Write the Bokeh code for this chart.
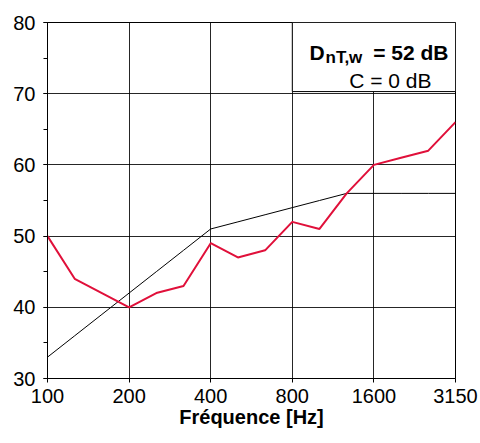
from bokeh.plotting import figure
from bokeh.models import Range1d, FixedTicker, SingleIntervalTicker, BoxAnnotation, Label
from bokeh.embed import file_html
from bokeh.resources import INLINE

# Third-octave bands (Hz)
freqs = [100, 125, 160, 200, 250, 315, 400, 500, 630, 800, 1000, 1250, 1600, 2000, 2500, 3150]
measured = [50, 44, 42, 40, 42, 43, 49, 47, 48, 52, 51, 56, 60, 61, 62, 66]
reference = [33, 36, 39, 42, 45, 48, 51, 52, 53, 54, 55, 56, 56, 56, 56, 56]
tick_labels = ["100", "200", "400", "800", "1600", "3150"]
tick_freqs = [100, 200, 400, 800, 1600, 3150]
rating_text = "= 52 dB"
c_text = "C = 0 dB"

idx = list(range(len(freqs)))
tick_idx = [freqs.index(f) for f in tick_freqs]

FONT = "Liberation Sans"

p = figure(output_backend="svg", toolbar_location=None,
           frame_width=408, frame_height=356,
           min_border_left=47, min_border_right=25, min_border_top=22, min_border_bottom=65,
           x_range=Range1d(0, len(freqs) - 1), y_range=Range1d(30, 80))
p.background_fill_color = "white"
p.border_fill_color = "white"
p.outline_line_color = "black"
p.outline_line_width = 1

# axes
p.xaxis.ticker = FixedTicker(ticks=tick_idx)
p.xaxis.major_label_overrides = {i: l for i, l in zip(tick_idx, tick_labels)}
p.yaxis.ticker = SingleIntervalTicker(interval=10, num_minor_ticks=2)
for ax in (p.xaxis[0], p.yaxis[0]):
    ax.axis_line_color = "black"
    ax.major_tick_line_color = "black"
    ax.minor_tick_line_color = "black"
    ax.major_tick_in = 0
    ax.major_tick_out = 4
    ax.minor_tick_in = 0
    ax.minor_tick_out = 4
    ax.major_label_text_font = FONT
    ax.major_label_text_font_size = "20px"
    ax.major_label_text_color = "black"
p.xaxis.minor_tick_line_color = None
p.xaxis.major_label_standoff = 6
p.yaxis.major_label_standoff = 8
p.xaxis.axis_label = "Fréquence [Hz]"
p.xaxis.axis_label_text_font = FONT
p.xaxis.axis_label_text_font_style = "bold"
p.xaxis.axis_label_text_font_size = "20px"
p.xaxis.axis_label_text_color = "black"
p.xaxis.axis_label_standoff = 0

# grid
p.xgrid.ticker = FixedTicker(ticks=tick_idx)
p.xgrid.grid_line_color = "black"
p.xgrid.grid_line_alpha = 0.85
p.ygrid.grid_line_color = "black"
p.ygrid.grid_line_alpha = 0.85

# data lines
p.line(idx, reference, line_color="black", line_width=1)
p.line(idx, measured, line_color="#e0103a", line_width=2)

# rating box
box = BoxAnnotation(left=9, right=15, bottom=70.3, top=80,
                    fill_color="white", fill_alpha=1.0,
                    line_color="black", line_alpha=1.0, line_width=1)
p.add_layout(box)

p.add_layout(Label(x=262, y=326, x_units="screen", y_units="screen", text="D",
                   text_font=FONT, text_font_style="bold", text_font_size="21px",
                   text_baseline="alphabetic", text_align="left", text_color="black"))
p.add_layout(Label(x=278, y=321, x_units="screen", y_units="screen", text="nT,w",
                   text_font=FONT, text_font_style="bold", text_font_size="17px",
                   text_baseline="alphabetic", text_align="left", text_color="black"))
p.add_layout(Label(x=401, y=326, x_units="screen", y_units="screen", text=rating_text,
                   text_font=FONT, text_font_style="bold", text_font_size="21px",
                   text_baseline="alphabetic", text_align="right", text_color="black"))
p.add_layout(Label(x=384, y=298, x_units="screen", y_units="screen", text=c_text,
                   text_font=FONT, text_font_size="21px",
                   text_baseline="alphabetic", text_align="right", text_color="black"))

open("out.html", "w").write(file_html(p, INLINE))
